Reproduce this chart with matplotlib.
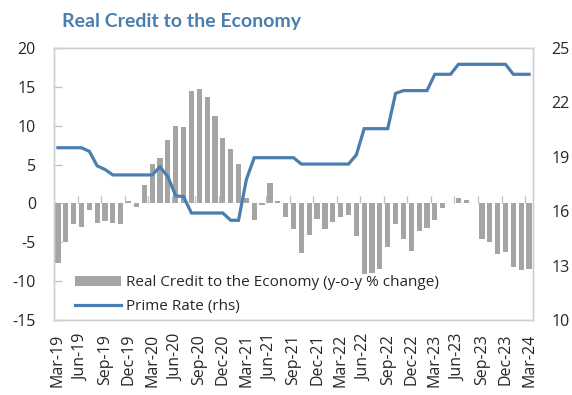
import matplotlib
matplotlib.use("Agg")
import matplotlib.pyplot as plt
import numpy as np

plt.rcParams['font.family'] = ['Open Sans', 'DejaVu Sans']
plt.rcParams['axes.unicode_minus'] = False

# Monthly data Mar-19 .. Mar-24
months = ['Mar', 'Apr', 'May', 'Jun', 'Jul', 'Aug', 'Sep', 'Oct', 'Nov', 'Dec', 'Jan', 'Feb']
labels = [f"{months[k % 12]}-{19 + (k + 2) // 12}" for k in range(61)]

real_credit = [
    -7.7, -4.9, -2.7, -3.0, -0.9, -2.5, -2.3, -2.5, -2.7, 0.3, -0.4, 2.4,
    5.1, 5.9, 8.2, 10.0, 9.8, 14.5, 14.7, 13.7, 11.3, 8.4, 7.0, 5.1,
    0.7, -2.1, -0.2, 2.6, 0.3, -1.8, -3.3, -6.4, -4.1, -2.0, -3.3, -2.4,
    -1.7, -1.5, -4.2, -9.1, -8.9, -8.5, -5.6, -2.7, -4.6, -6.1, -3.6, -3.2,
    -2.1, -0.6, 0.1, 0.7, 0.4, 0.0, -4.6, -4.9, -6.5, -6.2, -8.2, -8.6,
    -8.4,
]

prime_rate = [
    19.5, 19.5, 19.5, 19.5, 19.3, 18.5, 18.3, 18.0, 18.0, 18.0, 18.0, 18.0,
    18.0, 18.45, 17.9, 16.85, 16.8, 15.9, 15.9, 15.9, 15.9, 15.9, 15.5, 15.5,
    17.75, 18.95, 18.95, 18.95, 18.95, 18.95, 18.95, 18.6, 18.6, 18.6, 18.6, 18.6,
    18.6, 18.6, 19.1, 20.55, 20.55, 20.55, 20.55, 22.5, 22.65, 22.65, 22.65, 22.65,
    23.55, 23.55, 23.55, 24.1, 24.1, 24.1, 24.1, 24.1, 24.1, 24.1, 23.55, 23.55,
    23.55,
]

left_ticks = [-15, -10, -5, 0, 5, 10, 15, 20]
right_ticks = [10, 13, 16, 19, 22, 25]

bar_color = '#A5A5A5'
line_color = '#4A7EAF'
frame_color = '#D0D0D0'
text_color = '#262626'

fig = plt.figure(figsize=(5.72, 3.95), dpi=100)
ax = fig.add_axes([54/572, 1-320/395, (533-54)/572, (320-48)/395])
ax2 = ax.twinx()

x = np.arange(len(real_credit))
bars = ax.bar(x, real_credit, width=0.66, color=bar_color, zorder=2,
              label='Real Credit to the Economy (y-o-y % change)')
line, = ax2.plot(x, prime_rate, color=line_color, lw=2.3, zorder=3,
                 label='Prime Rate (rhs)', solid_joinstyle='miter')

ax.set_xlim(-0.5, len(x) - 0.5)
ax.set_ylim(-15, 20)
ax2.set_ylim(10, 25)
ax.set_yticks(left_ticks)
ax2.set_yticks(right_ticks)

# category tick marks on the zero line
bounds = np.arange(0, len(x) + 1, 3) - 0.5
ax.vlines(bounds, 0, 0.9, color='#BFBFBF', lw=0.9, zorder=1)

ax.set_xticks(x[::3])
ax.set_xticklabels(labels[::3], rotation=90)
ax.tick_params(axis='x', length=0, pad=10, labelsize=11.5, colors=text_color)
ax.tick_params(axis='y', direction='in', length=6, width=0.9, color='#BFBFBF',
               pad=13, labelsize=11.5, labelcolor=text_color)
ax2.tick_params(axis='y', length=0, pad=13.5, labelsize=11.5, labelcolor=text_color)

for a in (ax, ax2):
    for s in a.spines.values():
        s.set_color(frame_color)
        s.set_linewidth(1.0)

ax.set_zorder(ax2.get_zorder() - 1)
ax.patch.set_visible(False)

leg = ax2.legend([bars, line], [bars.get_label(), line.get_label()],
                 loc='lower left', bbox_to_anchor=(0.015, -0.028), frameon=False,
                 fontsize=11, handlelength=3.0, handleheight=0.55,
                 labelspacing=0.55, handletextpad=0.35, labelcolor=text_color)

fig.text(62/572, 1-21/395, 'Real Credit to the Economy', fontsize=14,
         fontweight='bold', color=line_color, ha='left', va='center',
         family=['Lato', 'DejaVu Sans'])

fig.savefig('out.png', dpi=100)
